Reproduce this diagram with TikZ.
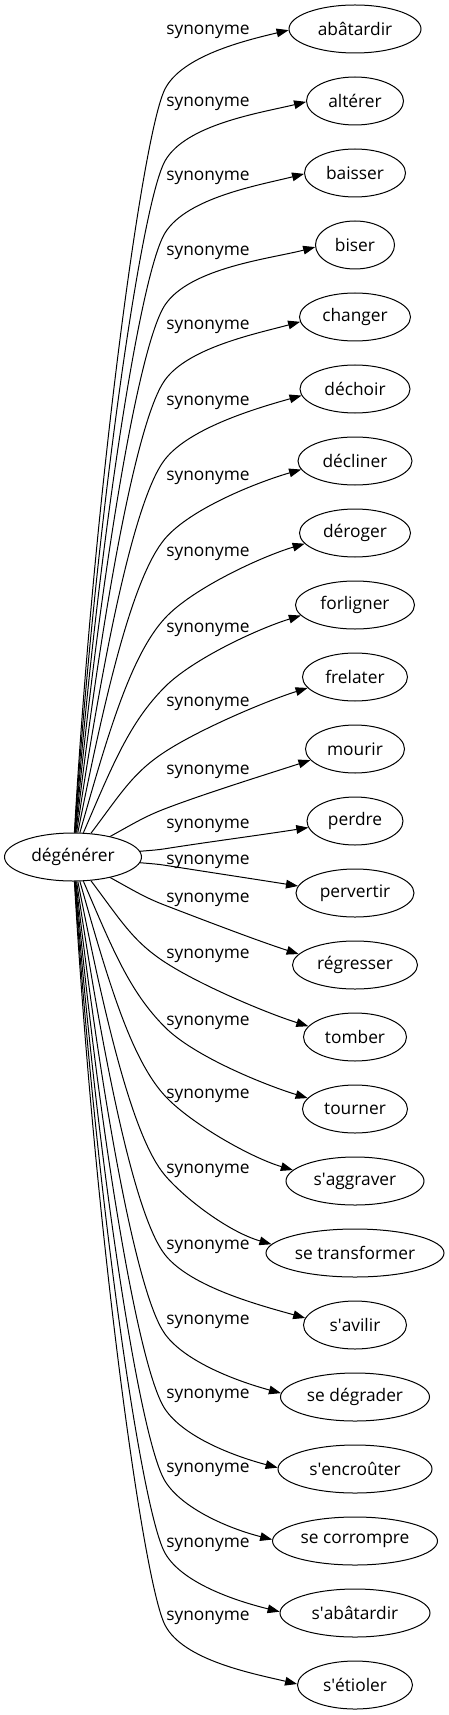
\documentclass[tikz,border=0pt]{standalone}
\usepackage{fontspec}
\setmainfont{Open Sans}
\usetikzlibrary{arrows.meta,shapes.geometric,calc}
\tikzset{
  lemma/.style={draw, ellipse, line width=0.75pt, inner sep=0pt, minimum height=36pt},
  relation/.style={inner sep=0pt, anchor=west},
  synonym/.style={-{Triangle[length=9pt,width=6.5pt]}, line width=0.75pt},
}
\begin{document}
\begin{tikzpicture}[x=0.75pt, y=-0.75pt, font=\fontsize{13}{15}\selectfont]
  \useasboundingbox (0,0) rectangle (449,1715);
  \node[lemma, minimum width=102.75pt] (degenerer) at (73,857) {dégénérer};
  % one synonym per row: name / text / ellipse width (px) / label row
  \foreach \key/\word/\wpx/\laby [count=\i from 0] in {
      abatardir/abâtardir/132/32, alterer/altérer/97/104, baisser/baisser/101/178,
      biser/biser/79/253, changer/changer/111/327, dechoir/déchoir/110/403,
      decliner/décliner/114/478, deroger/déroger/111/554, forligner/forligner/119/630,
      frelater/frelater/105/704, mourir/mourir/99/772, perdre/perdre/96/826,
      pervertir/pervertir/118/862, regresser/régresser/125/900, tomber/tomber/103/956,
      tourner/tourner/105/1023, saggraver/s\textquotesingle aggraver/138/1096,
      setransformer/se transformer/178/1171, savilir/s\textquotesingle avilir/103/1247,
      sedegrader/se dégrader/149/1322, sencrouter/s\textquotesingle encroûter/154/1396,
      secorrompre/se corrompre/165/1470, sabatardir/s\textquotesingle abâtardir/150/1545,
      setioler/s\textquotesingle étioler/115/1618}
  {
    \pgfmathsetmacro\yt{29+72*\i}
    \pgfmathsetmacro\sg{\i<12 ? -1 : 1}
    \pgfmathsetmacro\dist{abs(\yt-857)}
    \node[lemma, minimum width=\wpx*0.75pt] (\key) at (355,\yt) {\word};
    \node[relation] (rel\i) at (166,\laby) {synonyme};
    % bend of the edge
    \pgfmathsetmacro\cc{\dist<=324 ? 88*(1-exp(-\dist/95)) : max(60,85-(\dist-324)*0.102)}
    \pgfmathsetmacro\ky{\yt-(\sg)*\cc}
    \pgfmathsetmacro\th{\dist<=252 ? 9+(\dist-36)*0.167 : min(63,45+(\dist-252)*0.0313)}
    % leaving the source
    \pgfmathsetmacro\vy{(0.9+\dist/700)*(\ky-857)}
    \pgfmathsetmacro\vl{veclen(92,\vy)}
    \pgfmathsetmacro\ux{92/\vl}
    \pgfmathsetmacro\uy{\vy/\vl}
    \pgfmathsetmacro\rr{1/sqrt((\ux/68.5)^2+(\uy/24)^2)}
    \pgfmathsetmacro\sx{73+\rr*\ux}
    \pgfmathsetmacro\sy{857+\rr*\uy}
    \pgfmathsetmacro\ks{veclen(165-\sx,\ky-\sy)}
    \pgfmathsetmacro\aax{\sx+0.45*\ks*\ux}
    \pgfmathsetmacro\aay{\sy+0.45*\ks*\uy}
    \pgfmathsetmacro\am{min(50,0.35*\ks)}
    \pgfmathsetmacro\abx{165-\am*cos(\th)}
    \pgfmathsetmacro\aby{\ky-(\sg)*\am*sin(\th)}
    % reaching the target
    \pgfmathsetmacro\bm{0.3*(355-\wpx/2-165)}
    \pgfmathsetmacro\bax{165+\bm*cos(\th)}
    \pgfmathsetmacro\bay{\ky+(\sg)*\bm*sin(\th)}
    \pgfmathsetmacro\off{\dist<=324 ? min(12,\dist/6+1) : max(1,12-(\dist-324)*0.035)}
    \pgfmathtruncatemacro\ang{round(180-(\sg)*atan(\off/(\wpx/2)))}
    \pgfmathsetmacro\ph{\dist<=108 ? 9+(\dist-36)*0.125 : 18-(\dist-108)*0.0065}
    \pgfmathsetmacro\bbx{-45*cos(\ph)}
    \pgfmathsetmacro\bby{-45*(\sg)*sin(\ph)}
    \draw[synonym] (degenerer) .. controls (\aax,\aay) and (\abx,\aby) .. (165,\ky)
      .. controls (\bax,\bay) and ($(\key.\ang)+(\bbx,\bby)$) .. (\key.\ang);
  }
\end{tikzpicture}
\end{document}
